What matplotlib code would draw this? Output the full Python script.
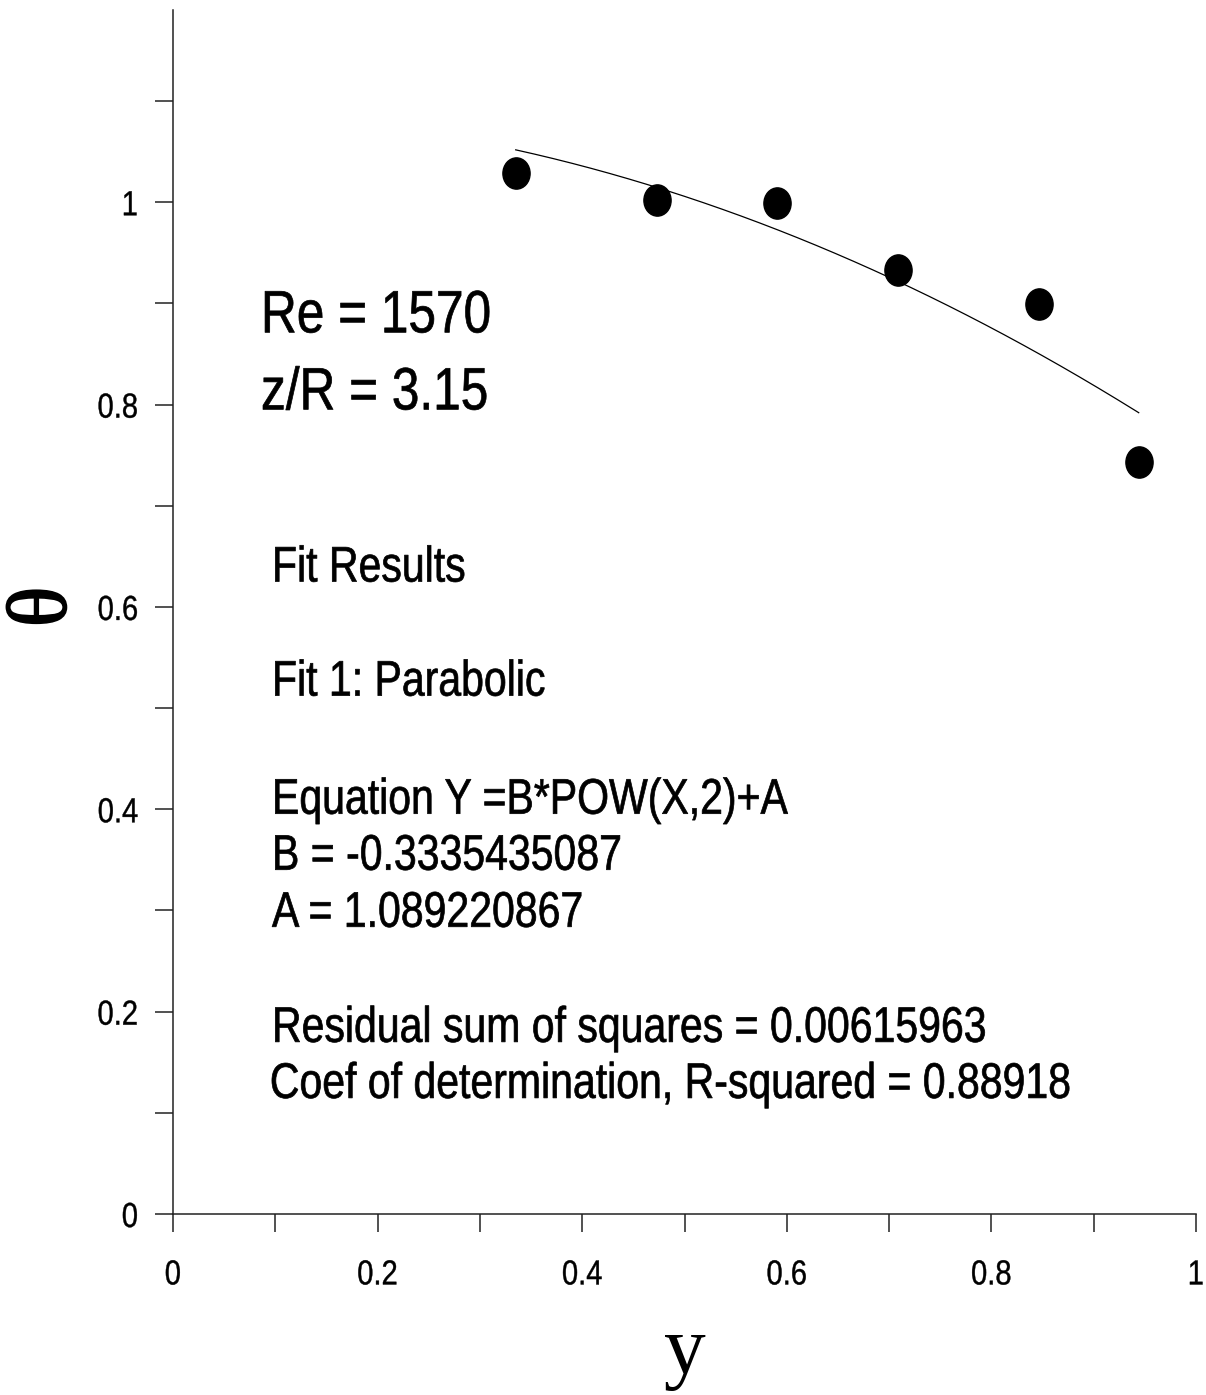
import numpy as np
import matplotlib
matplotlib.use("Agg")
import matplotlib.pyplot as plt
from matplotlib.patheffects import AbstractPathEffect
from matplotlib.transforms import Affine2D
from matplotlib.path import Path

# measured temperature profile
y_pos = [0.335, 0.473, 0.590, 0.709, 0.847, 0.944]
theta = [1.029, 1.002, 0.999, 0.933, 0.899, 0.743]

# parabolic fit theta = B*y^2 + A
B = -0.3335435087
A = 1.089220867
rss = 0.00615963
r2 = 0.88918

Re = 1570
zR = 3.15

x_major = [0, 0.2, 0.4, 0.6, 0.8, 1.0]
x_major_labels = ["0", "0.2", "0.4", "0.6", "0.8", "1"]
x_minor = [0.1, 0.3, 0.5, 0.7, 0.9]
y_major = [0, 0.2, 0.4, 0.6, 0.8, 1.0]
y_major_labels = ["0", "0.2", "0.4", "0.6", "0.8", "1"]
y_minor = [0.1, 0.3, 0.5, 0.7, 0.9, 1.1]


class Narrow(AbstractPathEffect):
    """Draw text glyphs horizontally condensed about a chosen anchor."""

    def __init__(self, sx=0.82, anchor="left", stroke=0.0):
        super().__init__()
        self.sx = sx
        self.anchor = anchor
        self.stroke = stroke

    def draw_path(self, renderer, gc, tpath, affine, rgbFace=None):
        v = tpath.vertices
        if len(v):
            lo, hi = v[:, 0].min(), v[:, 0].max()
        else:
            lo = hi = 0.0
        if self.anchor == "center":
            cx = 0.5 * (lo + hi)
        elif self.anchor == "right":
            cx = hi
        else:
            cx = 0.0
        t = Affine2D().translate(-cx, 0).scale(self.sx, 1).translate(cx, 0)
        renderer.draw_path(gc, tpath, t + affine, rgbFace)
        if self.stroke > 0:
            gc0 = renderer.new_gc()
            gc0.copy_properties(gc)
            gc0.set_linewidth(self.stroke)
            gc0.set_foreground(rgbFace if rgbFace is not None else "black")
            renderer.draw_path(gc0, tpath, t + affine, None)
            gc0.restore()


W, H = 1206, 1395
fig = plt.figure(figsize=(W / 100, H / 100), dpi=100)
fig.patch.set_facecolor("white")

left, right = 173 / W, 1196 / W
bottom = 1 - 1214 / H
top = 1 - 10 / H
ax = fig.add_axes([left, bottom, right - left, top - bottom])
ax.set_xlim(0, 1)
ax.set_ylim(0, 1.19)

for s in ("top", "right"):
    ax.spines[s].set_visible(False)
for s in ("left", "bottom"):
    ax.spines[s].set_linewidth(1.1)
    ax.spines[s].set_color("#222222")

ax.set_xticks(x_major)
ax.set_xticklabels(x_major_labels)
ax.set_xticks(x_minor, minor=True)
ax.set_yticks(y_major)
ax.set_yticklabels(y_major_labels)
ax.set_yticks(y_minor, minor=True)
ax.tick_params(which="both", direction="out", length=13, width=1.1, color="#222222")
ax.tick_params(axis="x", which="major", pad=19, labelsize=25)
ax.tick_params(axis="y", which="major", pad=12, labelsize=25)
for lbl in ax.get_xticklabels():
    lbl.set_family("Liberation Sans")
    lbl.set_path_effects([Narrow(0.84, "center", 0.3)])
for lbl in ax.get_yticklabels():
    lbl.set_family("Liberation Sans")
    lbl.set_path_effects([Narrow(0.84, "right", 0.3)])

# data points
oval = Path.unit_circle().transformed(Affine2D().scale(0.87, 1.0))
ax.plot(y_pos, theta, linestyle="none", marker=oval, markersize=22.5,
        color="black", zorder=3, clip_on=False)

# fitted parabola over the measured range
xf = np.linspace(y_pos[0], y_pos[-1], 200)
ax.plot(xf, B * xf ** 2 + A, color="black", linewidth=0.9, zorder=2)

# axis labels
ax.set_xlabel("y", family="Liberation Serif", fontsize=60)
ax.xaxis.set_label_coords(0.5, -0.084)
ax.set_ylabel("θ", family="Liberation Serif", fontsize=61, va="center",
              ha="center", path_effects=[Narrow(1.0, "center", 1.2)])
ax.yaxis.set_label_coords(-0.125, 0.6 / 1.19)


def put(px, py, s, size, sx, ha="left"):
    xd = (px - 173) / 1023
    yd = (1214 - py) / 1011
    ax.text(xd, yd, s, family="Liberation Sans", fontsize=size, ha=ha,
            va="baseline", color="black",
            path_effects=[Narrow(sx, ha, 0.5)])


put(261, 333, f"Re = {Re}", 43, 0.83)
put(261, 410, f"z/R = {zR}", 43, 0.83)

fs = 36
put(272, 582, "Fit Results", fs, 0.82)
put(272, 696, "Fit 1: Parabolic", fs, 0.82)
put(272, 814, "Equation Y =B*POW(X,2)+A", fs, 0.82)
put(272, 870, f"B = {B}", fs, 0.82)
put(272, 927, f"A = {A}", fs, 0.82)
put(272, 1042, f"Residual sum of squares = {rss}", fs, 0.82)
put(1072, 1098, f"Coef of determination, R-squared = {r2}", fs, 0.82, ha="right")

fig.savefig("out.png", dpi=100, facecolor="white")
